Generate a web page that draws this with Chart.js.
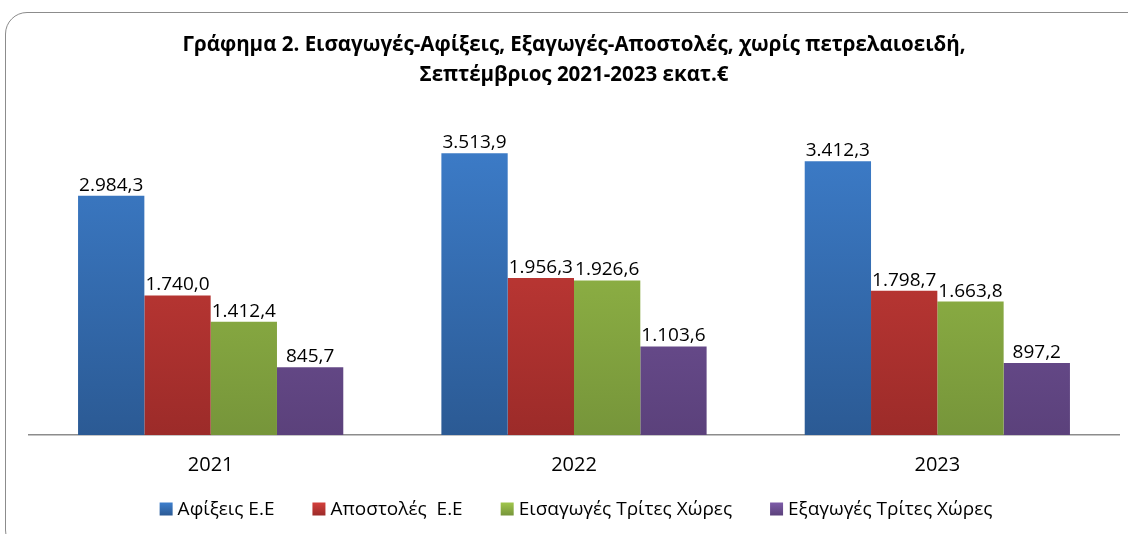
<!DOCTYPE html>
<html>
<head>
<meta charset="utf-8">
<script src="https://cdn.jsdelivr.net/npm/chart.js@4"></script>
<style>
  html, body { margin: 0; padding: 0; background: #fff; }
  #frame {
    position: absolute; left: 5px; top: 12px; width: 1150px; height: 540px;
    border: 1.5px solid #8c8c8c; border-radius: 22px; box-sizing: border-box;
  }
  #wrap { position: absolute; left: 0; top: 0; width: 1128px; height: 534px; }
</style>
</head>
<body>
<div id="frame"></div>
<div id="wrap"><canvas id="result_chart"></canvas></div>
<script>
// Data
const years = ["2021", "2022", "2023"];
const seriesNames = ["Αφίξεις Ε.Ε", "Αποστολές  Ε.Ε", "Εισαγωγές Τρίτες Χώρες", "Εξαγωγές Τρίτες Χώρες"];
const arrivalsEU = [2984.3, 3513.9, 3412.3];
const dispatchesEU = [1740.0, 1956.3, 1798.7];
const importsThird = [1412.4, 1926.6, 1663.8];
const exportsThird = [845.7, 1103.6, 897.2];
const yMax = 4000;

// top / bottom colours of each bar gradient
const shades = [
    ['#3e7fcd', '#2b5a94'],
    ['#d4403c', '#9c2b29'],
    ['#a0c64c', '#76953a'],
    ['#7e5ca9', '#5b417b']
];

const fontFamily = '"Open Sans", "Noto Sans", sans-serif';

const gradientFor = (idx) => (ctx) => {
    const area = ctx.chart.chartArea;
    if (!area) return shades[idx][0];
    const g = ctx.chart.ctx.createLinearGradient(0, area.top, 0, area.bottom);
    g.addColorStop(0, shades[idx][0]);
    g.addColorStop(1, shades[idx][1]);
    return g;
};

const formatGreek = (v) => {
    const parts = v.toFixed(1).split('.');
    const intPart = parts[0].replace(/\B(?=(\d{3})+(?!\d))/g, '.');
    return intPart + ',' + parts[1];
};

// value labels above bars
const barLabels = {
    id: 'barLabels',
    afterDatasetsDraw(chart) {
        const c = chart.ctx;
        c.save();
        c.font = '19px ' + fontFamily;
        c.fillStyle = '#000';
        c.textAlign = 'center';
        c.textBaseline = 'alphabetic';
        chart.data.datasets.forEach((ds, i) => {
            chart.getDatasetMeta(i).data.forEach((bar, j) => {
                c.fillText(formatGreek(ds.data[j]), bar.x, bar.y - 5);
            });
        });
        c.restore();
    }
};

// legend row under the axis (Excel style spacing)
const bottomLegend = {
    id: 'bottomLegend',
    afterDraw(chart) {
        const c = chart.ctx;
        const box = 13, textGap = 5, itemGap = 38;
        c.save();
        c.font = '19px ' + fontFamily;
        const widths = seriesNames.map(s => c.measureText(s).width);
        const total = widths.reduce((a, w) => a + box + textGap + w, 0) + itemGap * (seriesNames.length - 1);
        let x = 576 - total / 2;
        const y = 509;
        c.textBaseline = 'middle';
        seriesNames.forEach((name, i) => {
            const g = c.createLinearGradient(0, y - box / 2, 0, y + box / 2);
            g.addColorStop(0, shades[i][0]);
            g.addColorStop(1, shades[i][1]);
            c.fillStyle = g;
            c.fillRect(x, y - box / 2, box, box);
            c.fillStyle = '#000';
            c.fillText(name, x + box + textGap, y + 1);
            x += box + textGap + widths[i] + itemGap;
        });
        c.restore();
    }
};

const allSeries = [arrivalsEU, dispatchesEU, importsThird, exportsThird];

const config = {
    type: 'bar',
    data: {
        labels: years,
        datasets: allSeries.map((vals, i) => ({
            label: seriesNames[i],
            data: vals,
            backgroundColor: gradientFor(i),
            borderWidth: 0,
            barPercentage: 1.0,
            categoryPercentage: 0.73
        }))
    },
    options: {
        responsive: true,
        maintainAspectRatio: false,
        animation: false,
        layout: { padding: { left: 29, right: 9, top: 31, bottom: 47 } },
        scales: {
            x: {
                grid: { display: false },
                border: { display: true, color: '#8c8c8c', width: 1.5 },
                ticks: { color: '#000', font: { family: fontFamily, size: 20 }, padding: 10 }
            },
            y: { display: false, min: 0, max: yMax }
        },
        plugins: {
            title: {
                display: true,
                text: ['Γράφημα 2. Εισαγωγές-Αφίξεις, Εξαγωγές-Αποστολές, χωρίς πετρελαιοειδή,',
                       'Σεπτέμβριος 2021-2023 εκατ.€'],
                color: '#000',
                font: { family: fontFamily, size: 20.5, weight: 'bold', lineHeight: 1.42 },
                padding: { top: 0, bottom: 25 }
            },
            legend: { display: false },
            tooltip: { enabled: false }
        }
    },
    plugins: [barLabels, bottomLegend]
};

new Chart(document.getElementById('result_chart'), config);
</script>
</body>
</html>
